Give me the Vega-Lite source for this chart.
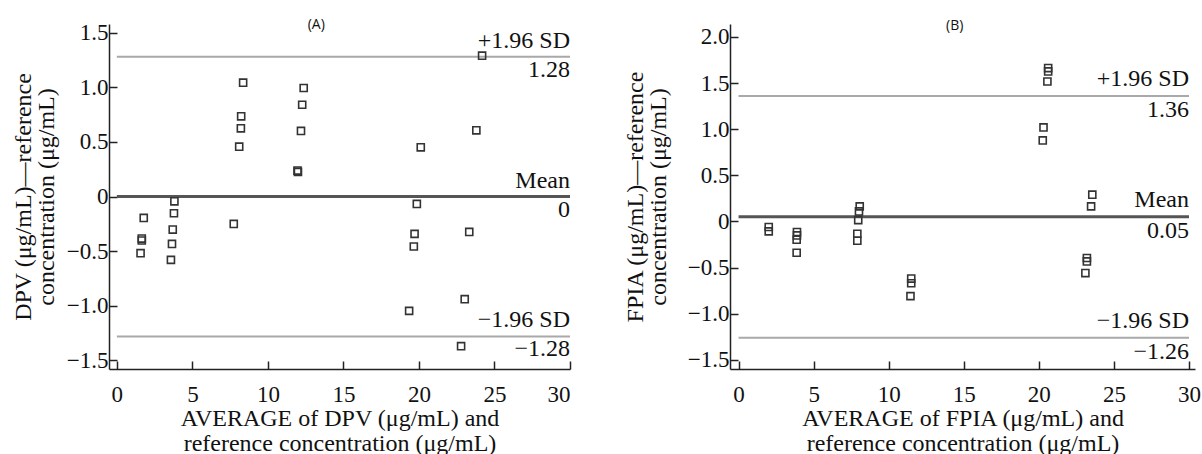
{
  "$schema": "https://vega.github.io/schema/vega-lite/v6.json",
  "padding": {"left": 11, "top": 18, "right": 0, "bottom": 0},
  "background": "white",
  "bounds": "flush",
  "spacing": 160,
  "config": {
    "view": {"stroke": null},
    "font": "Liberation Serif",
    "axis": {
      "grid": false,
      "domainColor": "#222",
      "domainWidth": 1.5,
      "tickColor": "#222",
      "tickWidth": 1.5,
      "tickSize": -8,
      "labelFont": "Liberation Serif",
      "labelFontSize": 23,
      "labelColor": "#111",
      "titleFont": "Liberation Serif",
      "titleFontSize": 24,
      "titleFontWeight": "normal",
      "titleColor": "#111",
      "titleLineHeight": 25
    }
  },
  "datasets": {
    "dpv": [
      {"avg": 24.18, "diff": 1.29},
      {"avg": 8.36, "diff": 1.043},
      {"avg": 12.37, "diff": 0.994},
      {"avg": 12.27, "diff": 0.841},
      {"avg": 8.23, "diff": 0.735},
      {"avg": 8.21, "diff": 0.625},
      {"avg": 12.19, "diff": 0.601},
      {"avg": 23.8, "diff": 0.607},
      {"avg": 8.1, "diff": 0.457},
      {"avg": 20.12, "diff": 0.451},
      {"avg": 11.96, "diff": 0.238},
      {"avg": 11.99, "diff": 0.226},
      {"avg": 3.81, "diff": -0.043},
      {"avg": 3.78, "diff": -0.152},
      {"avg": 1.78, "diff": -0.195},
      {"avg": 3.7, "diff": -0.302},
      {"avg": 1.65, "diff": -0.384},
      {"avg": 1.65, "diff": -0.402},
      {"avg": 3.65, "diff": -0.433},
      {"avg": 1.57, "diff": -0.518},
      {"avg": 3.58, "diff": -0.579},
      {"avg": 7.74, "diff": -0.25},
      {"avg": 19.86, "diff": -0.067},
      {"avg": 19.71, "diff": -0.341},
      {"avg": 19.66, "diff": -0.457},
      {"avg": 23.33, "diff": -0.323},
      {"avg": 23.03, "diff": -0.939},
      {"avg": 19.35, "diff": -1.046},
      {"avg": 22.79, "diff": -1.369}
    ],
    "fpia": [
      {"avg": 2.01, "diff": -0.061},
      {"avg": 2.01, "diff": -0.108},
      {"avg": 3.89, "diff": -0.116},
      {"avg": 3.89, "diff": -0.152},
      {"avg": 3.87, "diff": -0.199},
      {"avg": 3.87, "diff": -0.34},
      {"avg": 8.07, "diff": 0.163},
      {"avg": 8.02, "diff": 0.108},
      {"avg": 7.97, "diff": 0.014},
      {"avg": 7.91, "diff": -0.134},
      {"avg": 7.91, "diff": -0.21},
      {"avg": 11.5, "diff": -0.62},
      {"avg": 11.5, "diff": -0.67},
      {"avg": 11.45, "diff": -0.81},
      {"avg": 20.62, "diff": 1.662},
      {"avg": 20.62, "diff": 1.626},
      {"avg": 20.57, "diff": 1.517},
      {"avg": 20.31, "diff": 1.019},
      {"avg": 20.26, "diff": 0.878},
      {"avg": 23.56, "diff": 0.29},
      {"avg": 23.48, "diff": 0.163},
      {"avg": 23.2, "diff": -0.397},
      {"avg": 23.2, "diff": -0.434},
      {"avg": 23.1, "diff": -0.56}
    ],
    "linesA": [
      {"kind": "sd", "label": "+1.96 SD", "value": 1.28},
      {"kind": "mean", "label": "Mean", "value": 0},
      {"kind": "sd", "label": "−1.96 SD", "value": -1.28}
    ],
    "linesB": [
      {"kind": "sd", "label": "+1.96 SD", "value": 1.36},
      {"kind": "mean", "label": "Mean", "value": 0.05},
      {"kind": "sd", "label": "−1.96 SD", "value": -1.26}
    ]
  },
  "hconcat": [
    {
      "width": 461,
      "height": 345,
      "layer": [
        {
          "data": {"name": "linesA"},
          "mark": {"type": "rule"},
          "encoding": {
            "x": {"datum": 0, "type": "quantitative", "scale": {"domain": [-0.52, 30], "nice": false, "zero": false}},
            "x2": {"datum": 30},
            "y": {"field": "value", "type": "quantitative", "scale": {"domain": [-1.578, 1.58], "nice": false, "zero": false}},
            "color": {"field": "kind", "type": "nominal", "scale": {"domain": ["sd", "mean"], "range": ["#a9a9a9", "#555555"]}, "legend": null},
            "strokeWidth": {"field": "kind", "type": "nominal", "scale": {"domain": ["sd", "mean"], "range": [2, 3]}, "legend": null}
          }
        },
        {
          "data": {"name": "linesA"},
          "mark": {"type": "text", "align": "right", "baseline": "middle", "dy": -16, "fontSize": 24, "color": "#111"},
          "encoding": {
            "x": {"datum": 30, "type": "quantitative"},
            "y": {"field": "value", "type": "quantitative"},
            "text": {"field": "label"}
          }
        },
        {
          "data": {"name": "linesA"},
          "mark": {"type": "text", "align": "right", "baseline": "middle", "dy": 13, "fontSize": 24, "color": "#111"},
          "encoding": {
            "x": {"datum": 30, "type": "quantitative"},
            "y": {"field": "value", "type": "quantitative"},
            "text": {"field": "value", "type": "quantitative", "format": ".2~f"}
          }
        },
        {
          "data": {"name": "dpv"},
          "mark": {"type": "point", "shape": "square", "filled": false, "size": 50, "stroke": "#333", "strokeWidth": 1.6, "opacity": 1},
          "encoding": {
            "x": {
              "field": "avg", "type": "quantitative",
              "scale": {"domain": [-0.52, 30], "nice": false, "zero": false},
              "axis": {"values": [0, 5, 10, 15, 20, 25, 30], "labelPadding": 22, "title": ["AVERAGE of DPV (μg/mL) and", "reference concentration (μg/mL)"], "titlePadding": 0}
            },
            "y": {
              "field": "diff", "type": "quantitative",
              "scale": {"domain": [-1.578, 1.58], "nice": false, "zero": false},
              "axis": {"values": [-1.5, -1, -0.5, 0, 0.5, 1, 1.5], "labelExpr": "datum.value == 0 ? '0' : format(datum.value, '.1f')", "labelPadding": 9, "title": ["DPV (μg/mL)—reference", "concentration (μg/mL)"], "titlePadding": 8, "titleLineHeight": 23}
            }
          }
        },
        {
          "data": {"values": [{}]},
          "mark": {"type": "text", "text": "(A)", "font": "Open Sans", "fontSize": 14, "color": "#111", "baseline": "middle"},
          "encoding": {
            "x": {"datum": 13.2, "type": "quantitative"},
            "y": {"datum": 1.57, "type": "quantitative"}
          }
        }
      ]
    },
    {
      "width": 465,
      "height": 345,
      "layer": [
        {
          "data": {"name": "linesB"},
          "mark": {"type": "rule"},
          "encoding": {
            "x": {"datum": 0, "type": "quantitative", "scale": {"domain": [-0.57, 30.4], "nice": false, "zero": false}},
            "x2": {"datum": 30},
            "y": {"field": "value", "type": "quantitative", "scale": {"domain": [-1.6, 2.14], "nice": false, "zero": false}},
            "color": {"field": "kind", "type": "nominal", "scale": {"domain": ["sd", "mean"], "range": ["#a9a9a9", "#555555"]}, "legend": null},
            "strokeWidth": {"field": "kind", "type": "nominal", "scale": {"domain": ["sd", "mean"], "range": [2, 3]}, "legend": null}
          }
        },
        {
          "data": {"name": "linesB"},
          "mark": {"type": "text", "align": "right", "baseline": "middle", "dy": -17, "fontSize": 24, "color": "#111"},
          "encoding": {
            "x": {"datum": 30, "type": "quantitative"},
            "y": {"field": "value", "type": "quantitative"},
            "text": {"field": "label"}
          }
        },
        {
          "data": {"name": "linesB"},
          "mark": {"type": "text", "align": "right", "baseline": "middle", "dy": 14, "fontSize": 24, "color": "#111"},
          "encoding": {
            "x": {"datum": 30, "type": "quantitative"},
            "y": {"field": "value", "type": "quantitative"},
            "text": {"field": "value", "type": "quantitative", "format": ".2~f"}
          }
        },
        {
          "data": {"name": "fpia"},
          "mark": {"type": "point", "shape": "square", "filled": false, "size": 50, "stroke": "#333", "strokeWidth": 1.6, "opacity": 1},
          "encoding": {
            "x": {
              "field": "avg", "type": "quantitative",
              "scale": {"domain": [-0.57, 30.4], "nice": false, "zero": false},
              "axis": {"values": [0, 5, 10, 15, 20, 25, 30], "labelPadding": 22, "title": ["AVERAGE of FPIA (μg/mL) and", "reference concentration (μg/mL)"], "titlePadding": 0}
            },
            "y": {
              "field": "diff", "type": "quantitative",
              "scale": {"domain": [-1.6, 2.14], "nice": false, "zero": false},
              "axis": {"values": [-1.5, -1, -0.5, 0, 0.5, 1, 1.5, 2], "labelExpr": "datum.value == 0 ? '0' : format(datum.value, '.1f')", "labelPadding": 9, "title": ["FPIA (μg/mL)—reference", "concentration (μg/mL)"], "titlePadding": 17, "titleLineHeight": 23}
            }
          }
        },
        {
          "data": {"values": [{}]},
          "mark": {"type": "text", "text": "(B)", "font": "Open Sans", "fontSize": 14, "color": "#111", "baseline": "middle"},
          "encoding": {
            "x": {"datum": 14.4, "type": "quantitative"},
            "y": {"datum": 2.115, "type": "quantitative"}
          }
        }
      ]
    }
  ]
}
